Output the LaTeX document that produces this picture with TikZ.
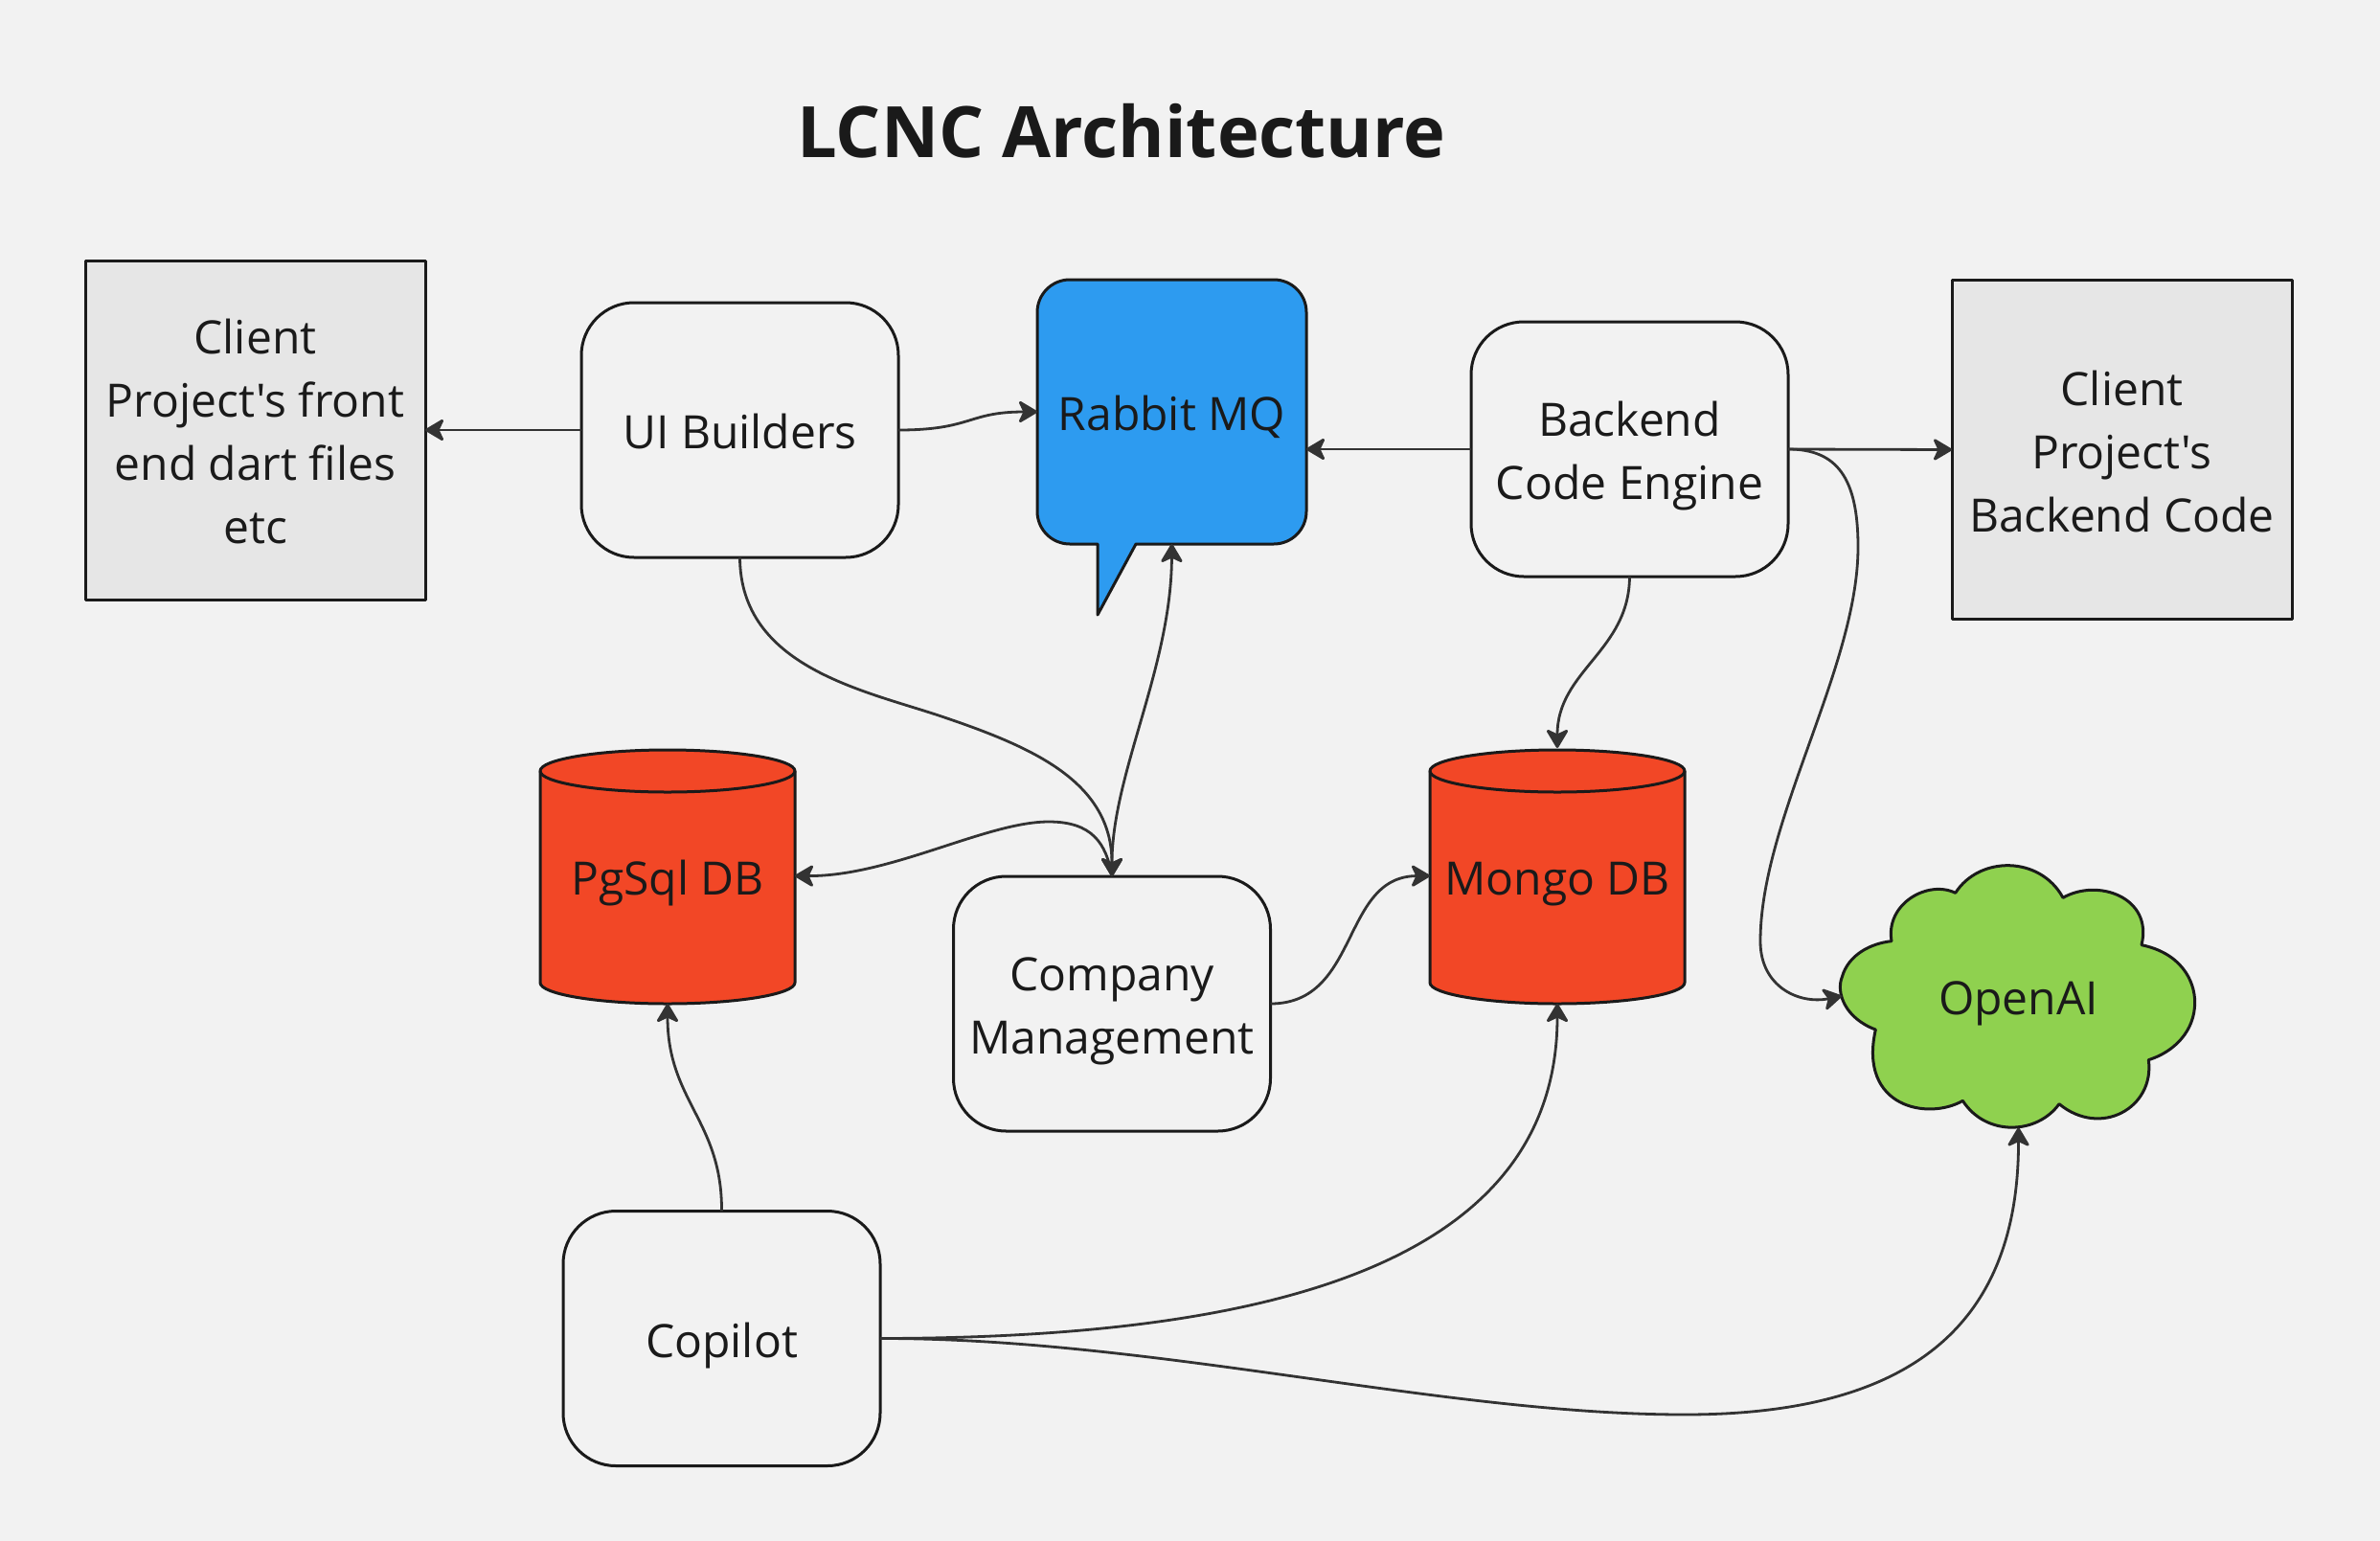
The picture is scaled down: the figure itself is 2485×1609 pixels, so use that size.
\documentclass[tikz,border=0pt]{standalone}
\usepackage{fontspec}
\newfontfamily\ofont{Open Sans}
\usetikzlibrary{arrows.meta}
\definecolor{bgc}{HTML}{F2F2F2}
\definecolor{inkc}{HTML}{1A1A1A}
\definecolor{linkc}{HTML}{333333}
\definecolor{greyc}{HTML}{E6E6E6}
\definecolor{bluec}{HTML}{2D9BF0}
\definecolor{redc}{HTML}{F24726}
\definecolor{greenc}{HTML}{8FD14F}
\newcommand{\tst}{\rule[-13.5pt]{0pt}{66pt}}
\tikzset{
  shapeline/.style={draw=inkc,line width=3pt,line join=round},
  txt/.style={text=inkc,font=\ofont\fontsize{48}{66}\selectfont,align=center,inner sep=0pt,outer sep=0pt},
  appbox/.style={txt,shapeline,fill=bgc,rounded corners=55pt,minimum width=331pt,minimum height=266pt},
  clientbox/.style={txt,shapeline,fill=greyc,minimum width=355pt,minimum height=354pt},
  plainlabel/.style={txt,minimum width=#1},
  tipa/.tip={Stealth[length=22pt,width=26pt,inset=6pt,round]},
  link/.style={draw=linkc,line width=2.8pt,-tipa},
  linkboth/.style={draw=linkc,line width=2.8pt,tipa-tipa},
}
\newcommand{\dbshape}[1]{%
  \begin{scope}[shift={(#1,0)}]
    \path[shapeline,fill=redc] (-133,805) -- (-133,1026) .. controls (-133,1038) and (-73,1048) .. (0,1048)
      .. controls (73,1048) and (133,1038) .. (133,1026) -- (133,805)
      .. controls (133,793) and (73,783) .. (0,783) .. controls (-73,783) and (-133,793) .. (-133,805) -- cycle;
    \path[shapeline] (-133,805) .. controls (-133,817) and (-73,827) .. (0,827)
      .. controls (73,827) and (133,817) .. (133,805);
  \end{scope}}
\begin{document}
\begin{tikzpicture}[x=1pt,y=-1pt]
\useasboundingbox (0,0) rectangle (2485,1609);
\fill[bgc] (0,0) rectangle (2485,1609);

% title
\node[text=inkc,font=\ofont\fontsize{74}{86}\selectfont\bfseries,inner sep=0pt] (title) at (1171,137) {LCNC Architecture};

% shapes drawn directly
\path[shapeline,fill=bluec] (1186,568) [rounded corners=34pt] -- (1364,568) -- (1364,292) -- (1083,292) -- (1083,568) [sharp corners] -- (1146,568) -- (1146,642) -- cycle;
\dbshape{697}
\dbshape{1626}
\begin{scope}[shift={(1880,880)},x=0.33333pt,y=-0.33333pt]
\path[shapeline,fill=greenc] (285,308)
  .. controls (265,190) and (400,115) .. (485,157)
  .. controls (560,40) and (750,40) .. (822,172)
  .. controls (930,110) and (1105,170) .. (1068,320)
  .. controls (1190,345) and (1235,430) .. (1235,500)
  .. controls (1235,590) and (1170,655) .. (1090,680)
  .. controls (1110,830) and (940,925) .. (810,818)
  .. controls (740,915) and (580,920) .. (508,808)
  .. controls (400,870) and (180,830) .. (235,585)
  .. controls (140,550) and (110,470) .. (130,420)
  .. controls (150,350) and (220,315) .. (285,308) -- cycle;
\end{scope}

% nodes
\node[clientbox] (clienta) at (266.5,449) {\tst Client\\\tst Project's front\\\tst end dart files\\\tst etc};
\node[clientbox] (clientb) at (2215.5,469.5) {\tst Client\\\tst Project's\\\tst Backend Code};
\node[appbox] (ui) at (772.5,449) {\tst UI Builders};
\node[appbox] (backend) at (1701.5,469) {\tst Backend\\\tst Code Engine};
\node[appbox] (company) at (1161,1048) {\tst Company\\\tst Management};
\node[appbox] (copilot) at (753.5,1397.5) {\tst Copilot};
\node[plainlabel=281pt,minimum height=276pt] (rabbit) at (1223.5,430) {\tst Rabbit MQ};
\node[plainlabel=266pt,minimum height=267pt] (pg) at (697,914.5) {\tst PgSql DB};
\node[plainlabel=266pt,minimum height=267pt] (mongo) at (1626,914.5) {\tst Mongo DB};
\node[plainlabel=369pt,minimum height=275pt] (openai) at (2107.5,1040) {\tst OpenAI};

% connectors
\draw[link] (ui.west) -- (clienta.east);
\draw[link] (ui.east) .. controls (1015,449) and (1010,430) .. (rabbit.west);
\draw[link] (backend.west) -- (rabbit.east |- backend.west);
\draw[link] (backend.east) -- (clientb.west);
\draw[link] (backend.east) .. controls (1918,469) and (1940,499) .. (1940,571)
  .. controls (1940,697) and (1838,856) .. (1838,983)
  .. controls (1838,1030) and (1878,1049) .. (openai.west);
\draw[link] (backend.south) .. controls (1701,680) and (1626,700) .. (mongo.north);
\draw[link] (ui.south) .. controls (773,697) and (903,721) .. (983,748)
  .. controls (1078,780) and (1161,816) .. (company.north);
\draw[linkboth] (company.north) .. controls (1161,808) and (1223,697) .. (rabbit.south);
\draw[link] (company.north) .. controls (1155,880) and (1140,858) .. (1095,858)
  .. controls (1030,858) and (930,915) .. (pg.east);
\draw[link] (company.east) .. controls (1420,1048) and (1400,915) .. (mongo.west);
\draw[link] (copilot.north) .. controls (754,1170) and (697,1150) .. (pg.south);
\draw[link] (copilot.east) .. controls (1300,1397) and (1626,1330) .. (mongo.south);
\draw[link] (copilot.east) .. controls (1204,1397) and (1506,1477) .. (1759,1477)
  .. controls (1981,1477) and (2108,1395) .. (openai.south);
\end{tikzpicture}
\end{document}
